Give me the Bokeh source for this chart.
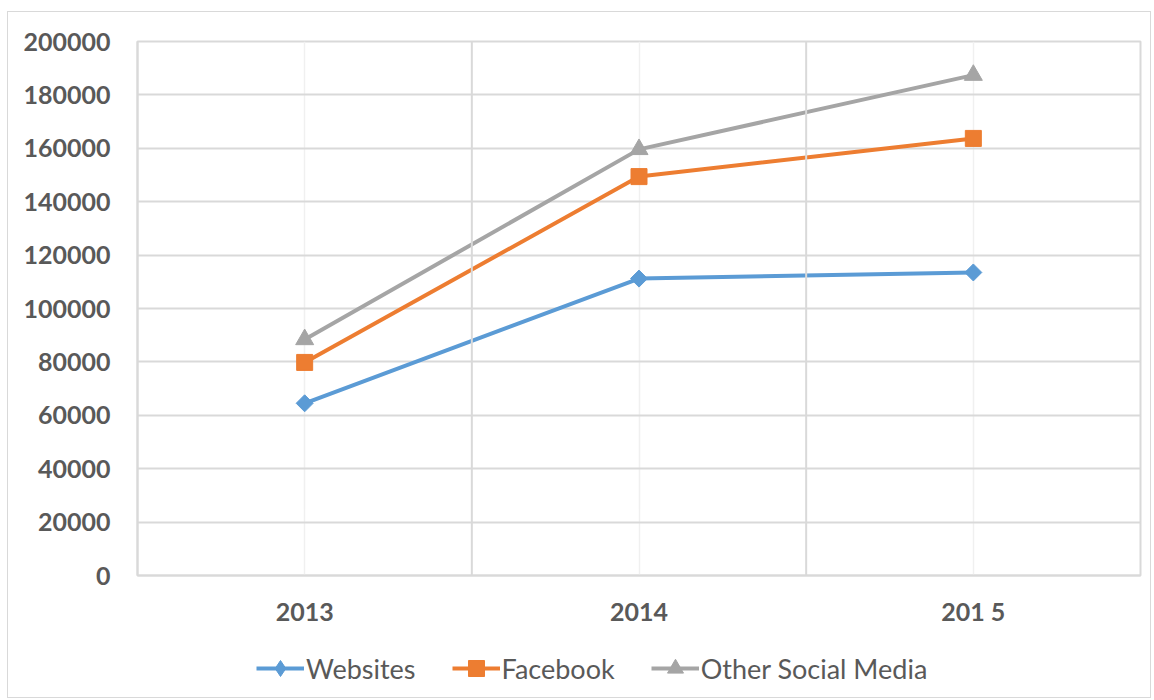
import math
from bokeh.plotting import figure
from bokeh.layouts import column
from bokeh.models import FactorRange, Range1d, Span, Legend, LegendItem, SingleIntervalTicker
from bokeh.embed import file_html
from bokeh.resources import INLINE

years = ["2013", "2014", "201 5"]
websites = [64500, 111200, 113500]
facebook = [79800, 149400, 163700]
other_social = [88400, 159600, 187400]
series_names = ["Websites", "Facebook", "Other Social Media"]

colors = ["#5B9BD5", "#ED7D31", "#A5A5A5"]
markers = [("square", 12, math.pi / 4), ("square", 16, 0), ("triangle", 18, 0)]
legend_markers = ["diamond", "square", "triangle"]
values = [websites, facebook, other_social]

FONT = "Lato"
GRID = "#d9d9d9"
TXT = "#595959"

p = figure(frame_width=1003, frame_height=534, x_range=FactorRange(*years, range_padding=0),
           y_range=Range1d(0, 200000), output_backend="svg", toolbar_location=None,
           min_border_left=129, min_border_right=8, min_border_top=29, min_border_bottom=60)

p.outline_line_color = GRID
p.outline_line_width = 2
p.background_fill_color = "white"
p.border_fill_color = "white"

p.yaxis.ticker = SingleIntervalTicker(interval=20000)
p.ygrid.grid_line_color = GRID
p.ygrid.grid_line_width = 2
p.xgrid.grid_line_color = "#f0f0f0"
p.xgrid.grid_line_width = 1.5

for loc in [1, 2]:
    p.add_layout(Span(location=loc, dimension="height", line_color=GRID, line_width=2))

for ax in [p.xaxis[0], p.yaxis[0]]:
    ax.axis_line_color = GRID
    ax.axis_line_width = 2
    ax.major_tick_line_color = None
    ax.minor_tick_line_color = None
    ax.major_tick_out = 0
    ax.major_label_text_font = FONT
    ax.major_label_text_font_style = "bold"
    ax.major_label_text_font_size = "25px"
    ax.major_label_text_color = TXT
p.yaxis.major_label_standoff = 23
p.xaxis.major_label_standoff = 20
p.yaxis.formatter.use_scientific = False

for vals, color, (marker, size, ang) in zip(values, colors, markers):
    p.line(years, vals, line_color=color, line_width=4)
    p.scatter(years, vals, marker=marker, size=size, angle=ang,
              fill_color=color, line_color=color)

# legend strip below the chart (legend-only renderers hold no visible data)
lg = figure(width=1142, height=62, x_range=Range1d(0, 1), y_range=Range1d(0, 1),
            x_axis_type=None, y_axis_type=None, output_backend="svg", toolbar_location=None,
            min_border=0)
lg.outline_line_color = None
lg.grid.visible = False
items = []
for name, color, lm in zip(series_names, colors, legend_markers):
    r1 = lg.line([math.nan], [math.nan], line_color=color, line_width=4)
    r2 = lg.scatter([math.nan], [math.nan], marker=lm, size=18,
                    fill_color=color, line_color=color)
    items.append(LegendItem(label=name, renderers=[r1, r2]))

legend = Legend(items=items, orientation="horizontal", location=(119, 9),
                label_text_font=FONT, label_text_font_size="27px", label_text_color=TXT,
                border_line_color=None, background_fill_alpha=0,
                glyph_width=48, glyph_height=40,
                spacing=36, label_standoff=2, padding=2, margin=0)
lg.add_layout(legend, "center")

layout = column(p, lg, spacing=0)
layout.styles = {"border": "1px solid #d9d9d9", "margin": "11px 0 0 7px"}

open("out.html", "w").write(file_html(layout, INLINE))
